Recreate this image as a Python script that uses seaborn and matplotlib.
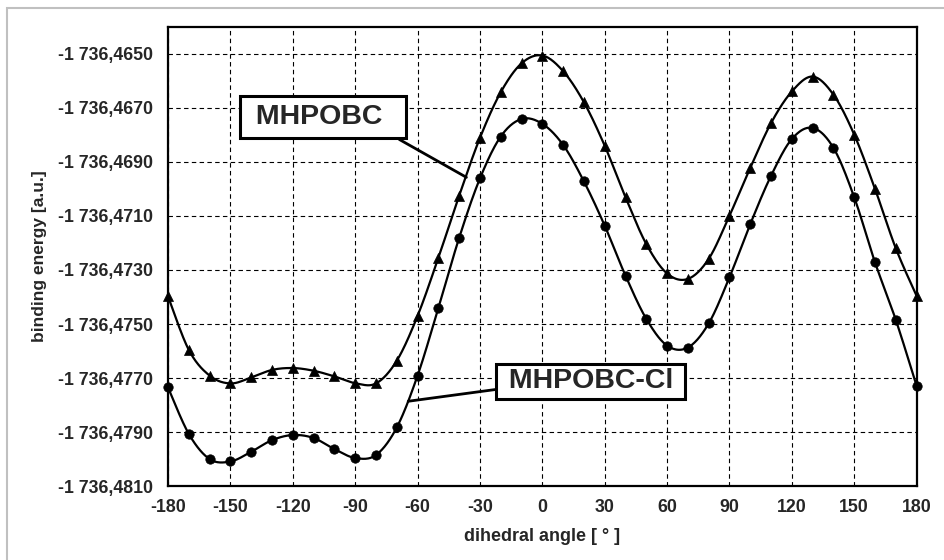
import numpy as np
import pandas as pd
import matplotlib
matplotlib.use("Agg")
import matplotlib.pyplot as plt
import seaborn as sns
from matplotlib.ticker import FixedLocator, FuncFormatter
from matplotlib.patches import Rectangle

# Set style
sns.set_style("white")
plt.rcParams['font.family'] = ['Liberation Sans', 'DejaVu Sans']
plt.rcParams['font.weight'] = 'bold'
plt.rcParams['axes.unicode_minus'] = False

# --- Data ---
angles = [-180, -170, -160, -150, -140, -130, -120, -110, -100, -90,
          -80, -70, -60, -50, -40, -30, -20, -10, 0, 10,
          20, 30, 40, 50, 60, 70, 80, 90, 100, 110,
          120, 130, 140, 150, 160, 170, 180]

# MHPOBC (triangles), binding energy in a.u.
mhpobc = [-1736.47398, -1736.47596, -1736.47691, -1736.47720, -1736.47698,
          -1736.47670, -1736.47663, -1736.47673, -1736.47694, -1736.47719,
          -1736.47720, -1736.47636, -1736.47470, -1736.47255, -1736.47025,
          -1736.46811, -1736.46642, -1736.46535, -1736.46506, -1736.46564,
          -1736.46679, -1736.46840, -1736.47031, -1736.47204, -1736.47313,
          -1736.47333, -1736.47259, -1736.47099, -1736.46922, -1736.46756,
          -1736.46639, -1736.46584, -1736.46651, -1736.46799, -1736.47000,
          -1736.47220, -1736.47396]

# MHPOBC-Cl (circles)
mhpobc_cl = [-1736.47735, -1736.47907, -1736.48000, -1736.48009, -1736.47973,
             -1736.47930, -1736.47911, -1736.47922, -1736.47963, -1736.47996,
             -1736.47985, -1736.47883, -1736.47691, -1736.47441, -1736.47181,
             -1736.46961, -1736.46806, -1736.46741, -1736.46759, -1736.46837,
             -1736.46972, -1736.47136, -1736.47321, -1736.47481, -1736.47580,
             -1736.47587, -1736.47498, -1736.47327, -1736.47130, -1736.46951,
             -1736.46815, -1736.46774, -1736.46848, -1736.47031, -1736.47272,
             -1736.47485, -1736.47729]

x_ticks = [-180, -150, -120, -90, -60, -30, 0, 30, 60, 90, 120, 150, 180]
y_ticks = [-1736.4810, -1736.4790, -1736.4770, -1736.4750, -1736.4730,
           -1736.4710, -1736.4690, -1736.4670, -1736.4650]


def smooth_line(x, y, n=24):
    """Excel-like smoothed line (Catmull-Rom style bezier through the points)."""
    x = np.asarray(x, float)
    y = np.asarray(y, float)
    px = np.concatenate([[x[0]], x, [x[-1]]])
    py = np.concatenate([[y[0]], y, [y[-1]]])
    t = np.linspace(0, 1, n, endpoint=False)
    xs, ys = [], []
    for i in range(1, len(px) - 2):
        p0x, p1x, p2x, p3x = px[i - 1], px[i], px[i + 1], px[i + 2]
        p0y, p1y, p2y, p3y = py[i - 1], py[i], py[i + 1], py[i + 2]
        b1x, b1y = p1x + (p2x - p0x) / 6, p1y + (p2y - p0y) / 6
        b2x, b2y = p2x - (p3x - p1x) / 6, p2y - (p3y - p1y) / 6
        xs.append((1 - t)**3 * p1x + 3 * (1 - t)**2 * t * b1x + 3 * (1 - t) * t**2 * b2x + t**3 * p2x)
        ys.append((1 - t)**3 * p1y + 3 * (1 - t)**2 * t * b1y + 3 * (1 - t) * t**2 * b2y + t**3 * p2y)
    xs.append([x[-1]])
    ys.append([y[-1]])
    return np.concatenate(xs), np.concatenate(ys)


def fmt_energy(v, pos):
    s = f"{abs(v):,.4f}".replace(',', ' ').replace('.', ',')
    return ('-' if v < 0 else '') + s


fig = plt.figure(figsize=(9.44, 5.6), dpi=100)
ax = fig.add_axes([0.178, 0.132, 0.793, 0.820])

for series, marker, size in [(mhpobc, '^', 52), (mhpobc_cl, 'o', 46)]:
    sx, sy = smooth_line(angles, series)
    curve = pd.DataFrame({'angle': sx, 'energy': sy})
    sns.lineplot(data=curve, x='angle', y='energy', ax=ax, color='black',
                 linewidth=1.6, sort=False, estimator=None)
    pts = pd.DataFrame({'angle': angles, 'energy': series})
    sns.scatterplot(data=pts, x='angle', y='energy', ax=ax, marker=marker,
                    s=size, color='black', edgecolor='black', linewidth=0.5,
                    zorder=5, clip_on=False)

ax.set_xlim(-180, 180)
ax.set_ylim(-1736.4810, -1736.4640)
ax.xaxis.set_major_locator(FixedLocator(x_ticks))
ax.yaxis.set_major_locator(FixedLocator(y_ticks))
ax.yaxis.set_major_formatter(FuncFormatter(fmt_energy))

ax.grid(True, color='black', linestyle=(0, (4, 3)), linewidth=0.8)
ax.tick_params(axis='both', length=0)
ax.tick_params(axis='y', pad=11, labelsize=12.8)
ax.tick_params(axis='x', pad=9, labelsize=12.8)
for side in ax.spines.values():
    side.set_color('black')
    side.set_linewidth(1.6)

ax.set_xlabel('dihedral angle [ ° ]', fontsize=13, fontweight='bold', labelpad=9)
ax.set_ylabel('binding energy [a.u.]', fontsize=12.5, fontweight='bold', labelpad=8)

ax.annotate(' MHPOBC  ', xy=(-36.5, -1736.46957), xytext=(-105.4, -1736.46735),
            ha='center', va='center', fontsize=20.5, fontweight='bold',
            bbox=dict(boxstyle='square,pad=0.28', fc='white', ec='black', lw=2.2),
            arrowprops=dict(arrowstyle='-', color='black', lw=2, relpos=(0.9, 0),
                            shrinkA=0, shrinkB=0), zorder=6)
ax.annotate(' MHPOBC-Cl ', xy=(-64.5, -1736.47786), xytext=(23.3, -1736.47712),
            ha='center', va='center', fontsize=20.5, fontweight='bold',
            bbox=dict(boxstyle='square,pad=0.15', fc='white', ec='black', lw=2.2),
            arrowprops=dict(arrowstyle='-', color='black', lw=2, relpos=(0, 0.21),
                            shrinkA=0, shrinkB=0), zorder=6)

# light grey outer frame
fig.add_artist(Rectangle((7 / 944, -0.1), 1.2, 1 - 8 / 560 + 0.1,
                         transform=fig.transFigure, fill=False,
                         ec='#c0c0c0', lw=1.5))

plt.savefig('out.png', dpi=100)
